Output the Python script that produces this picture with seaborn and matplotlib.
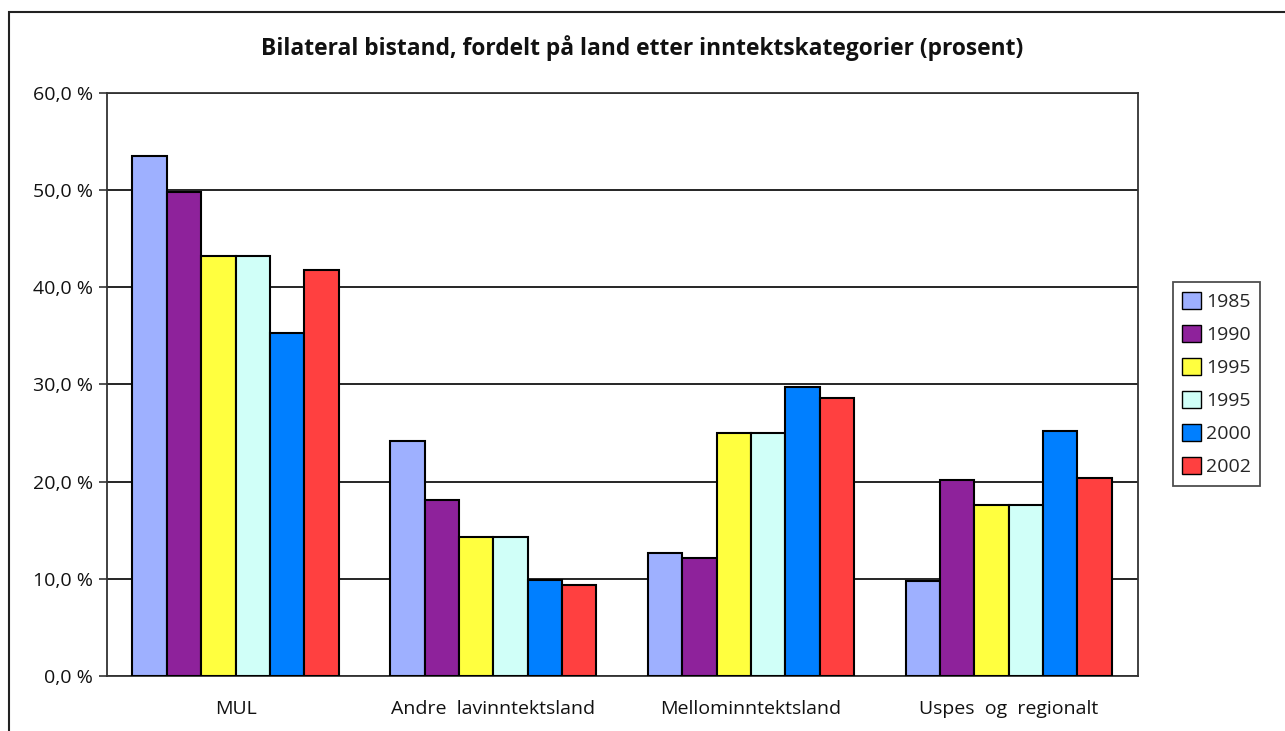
import numpy as np
import pandas as pd
import seaborn as sns
import matplotlib.pyplot as plt
from matplotlib.patches import Rectangle, Patch
from matplotlib.ticker import FuncFormatter

categories = ["MUL", "Andre  lavinntektsland", "Mellominntektsland", "Uspes  og  regionalt"]
series = ["1985", "1990", "1995a", "1995b", "2000", "2002"]
series_labels = ["1985", "1990", "1995", "1995", "2000", "2002"]
colors = ["#9EB0FF", "#8E229B", "#FFFF3F", "#D0FFF8", "#007FFF", "#FF4040"]

v1985 = [53.5, 24.2, 12.7, 9.8]
v1990 = [49.8, 18.1, 12.1, 20.2]
v1995a = [43.2, 14.3, 25.0, 17.6]
v1995b = [43.2, 14.3, 25.0, 17.6]
v2000 = [35.3, 9.9, 29.7, 25.2]
v2002 = [41.8, 9.4, 28.6, 20.4]

rows = []
for s, vals in zip(series, [v1985, v1990, v1995a, v1995b, v2000, v2002]):
    for c, v in zip(categories, vals):
        rows.append({"kategori": c, "serie": s, "verdi": v})
df = pd.DataFrame(rows)

sns.set_style("white")
plt.rcParams['font.family'] = ['Open Sans', 'DejaVu Sans']

fig = plt.figure(figsize=(12.85, 7.31), dpi=100)
ax = fig.add_axes([0.083, 0.0752, 0.8023, 0.798])

sns.barplot(data=df, x="kategori", y="verdi", hue="serie", order=categories,
            hue_order=series, palette=colors, width=0.8, edgecolor="black",
            linewidth=1.5, saturation=1, ax=ax, legend=False, zorder=3)

ax.set_ylim(0, 60)
ax.set_xlim(-0.5, 3.5)
ax.set_yticks(np.arange(0, 61, 10))
ax.yaxis.set_major_formatter(FuncFormatter(lambda v, p: f"{v:.1f}".replace(".", ",") + " %"))
ax.yaxis.grid(True, color="black", linewidth=1.2, zorder=0)
ax.set_axisbelow(True)
ax.set_xlabel("")
ax.set_ylabel("")

ax.set_xticks(range(len(categories)))
ax.set_xticklabels(categories)
ax.set_xticks([0.5, 1.5, 2.5, 3.5], minor=True)
ax.tick_params(axis="x", which="major", length=0, pad=17, labelsize=14, colors="#111111")
ax.tick_params(axis="x", which="minor", length=6, width=1.2, direction="out", color="#333333")
ax.tick_params(axis="y", length=6, width=1.2, direction="out", color="#333333",
               labelsize=14, labelcolor="#111111", left=True, pad=4)

for sp in ax.spines.values():
    sp.set_visible(True)
    sp.set_color("#333333")
    sp.set_linewidth(1.3)

handles = [Patch(facecolor=c, edgecolor="black", linewidth=1.0) for c in colors]
leg = fig.legend(handles, series_labels, loc="upper left",
                 bbox_to_anchor=(1172.7 / 1285, 1 - 282.3 / 731),
                 frameon=True, fancybox=False, edgecolor="#222222",
                 fontsize=14, handlelength=0.95, handleheight=0.95,
                 handletextpad=0.25, labelspacing=0.72, borderpad=0.5,
                 borderaxespad=0)
leg.get_frame().set_linewidth(1.3)

fig.text(0.5, 1 - 48 / 731, "Bilateral bistand, fordelt på land etter inntektskategorier (prosent)",
         ha="center", va="center", fontsize=16.4, fontweight="bold", color="#111111")

fig.patches.append(Rectangle((9 / 1285, -0.05), 1.1, 1 - 12 / 731 + 0.05,
                             transform=fig.transFigure, fill=False,
                             edgecolor="#222222", linewidth=1.5))

fig.savefig("out.png", dpi=100)
